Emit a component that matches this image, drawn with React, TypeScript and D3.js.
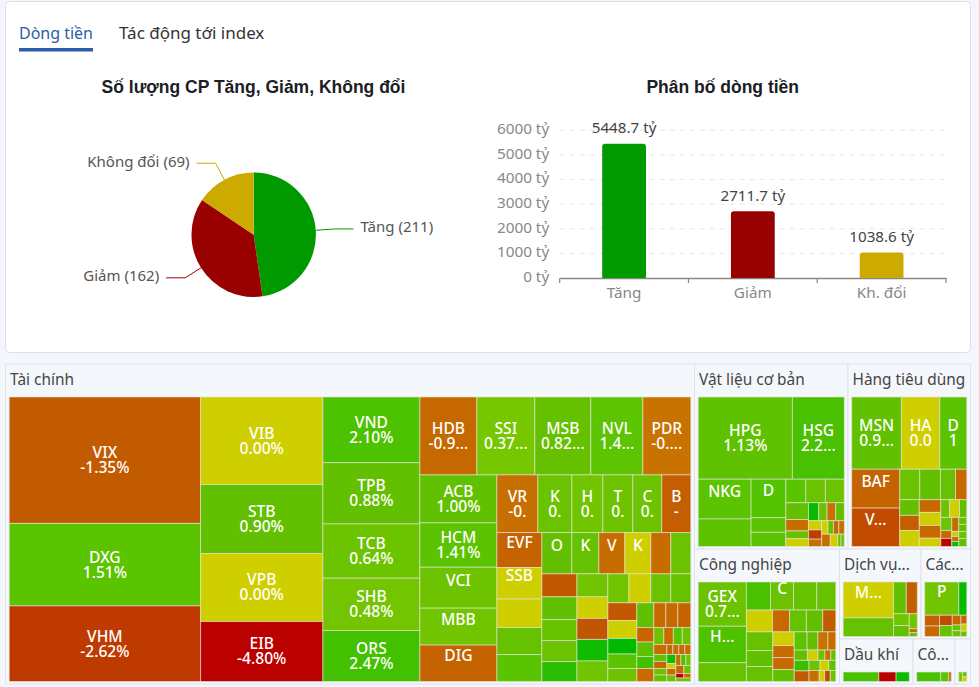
import { useEffect, useRef } from "react";
import * as d3 from "d3";

const pieLabels = ["Tăng", "Giảm", "Không đổi"];
const pieValues = [211, 162, 69];
const trendColors = ["#009900", "#990000", "#ccaa00"];

const barLabels = ["Tăng", "Giảm", "Kh. đổi"];
const barValues = [5448.7, 2711.7, 1038.6];
const barTicks = [0, 1000, 2000, 3000, 4000, 5000, 6000];

// leaf: [ticker, traded value (relative inside its sector), % change, text of second line]
type Leaf = [string, number, number, string?];
type Item = Leaf | { dir: "row" | "col"; kids: Item[] };
const row = (...kids: Item[]): Item => ({ dir: "row", kids });
const col = (...kids: Item[]): Item => ({ dir: "col", kids });

const taiChinh = row(
  col(["VIX", 24225, -1.35, "-1.35%"], ["DXG", 15799, 1.51, "1.51%"], ["VHM", 14497, -2.62, "-2.62%"]),
  col(["VIB", 10719, 0, "0.00%"], ["STB", 8453, 0.9, "0.90%"], ["VPB", 8330, 0, "0.00%"], ["EIB", 7350, -4.8, "-4.80%"]),
  col(["VND", 6373, 2.1, "2.10%"], ["TPB", 5946, 0.88, "0.88%"], ["TCB", 5267, 0.64, "0.64%"], ["SHB", 5083, 0.48, "0.48%"], ["ORS", 4947, 2.47, "2.47%"]),
  col(
    row(["HDB", 4446, -0.95, "-0.9..."], ["SSI", 4524, 0.37, "0.37..."], ["MSB", 4368, 0.82, "0.82..."], ["NVL", 4056, 1.45, "1.4..."], ["PDR", 3744, -0.6, "-0...."]),
    row(
      col(["ACB", 3696, 1, "1.00%"], ["HCM", 3427, 1.41, "1.41%"], ["VCI", 3157, 0.6], ["MBB", 2849, 0.5], ["DIG", 2811, -1.1]),
      col(
        row(["VR", 2366, -0.7, "-0."], ["K", 1962, 0.7, "0."], ["H", 1789, 0.5, "0."], ["T", 1731, 0.6, "0."], ["C", 1673, 0.6, "0."], ["B", 1673, -1.2, "-"]),
        row(
          col(["EVF", 1575, -1.1], ["SSB", 1418, 0], ["", 1283, 0], ["", 1215, 0.8], ["", 1215, 1.5]),
          col(
            row(["O", 1239, 0.9], ["K", 1115, 0.8], ["V", 1074, -0.8], ["K", 1074, 0], ["", 826, -0.8], ["", 826, 0.7]),
            row(
              col(["", 805, -1.4], ["", 805, 0.9], ["", 735, 0.8], ["", 735, 0.7], ["", 700, 3.9]),
              col(["", 713, 0.5], ["", 667, 0], ["", 651, -1.5], ["", 667, 5.5], ["", 636, 0.5]),
              col(
                row(["", 609, 0.5], ["", 638, 0], ["", 580, 0.7], ["", 580, 0.8]),
                row(
                  col(["", 513, -1.4], ["", 522, 0], ["", 450, 6.5], ["", 421, 1.5], ["", 377, 0.6]),
                  col(["", 420, 1.1], ["", 247, -1], ["", 247, 1.1], ["", 204, 2.5], ["", 221, -0.8]),
                  col(
                    row(["", 296, -0.9], ["", 296, -0.9], ["", 321, -1.1]),
                    row(["", 170, 0.6], ["", 162, -0.8], ["", 153, 1.5], ["", 145, 0.6]),
                    row(["", 130, -0.8], ["", 60, -0.9], ["", 60, -0.7], ["", 60, -0.9], ["", 60, -0.8]),
                    row(
                      col(["", 91, 1], ["", 91, -1], ["", 85, 0.7], ["", 85, 0.8]),
                      col(["", 81, 5.5], ["", 45, 0], ["", 58, -0.9], ["", 58, 0.6]),
                      col(
                        row(["", 55, -0.8], ["", 55, 2], ["", 55, 0.5]),
                        row(["", 64, -1], ["", 56, 0.7]),
                        row(["", 36, -4.8], ["", 32, -0.9]),
                        ["", 52, 0.7]
                      )
                    )
                  )
                )
              )
            )
          )
        )
      )
    )
  )
);

const vatLieu = col(
  row(["HPG", 7626, 1.13, "1.13%"], ["HSG", 4203, 2.2, "2.2..."]),
  row(
    col(["NKG", 2072, 1.5], ["", 1435, 1.2]),
    col(["D", 1316, 1.8], ["", 500, 1.4], ["", 486, 1.3]),
    col(
      row(["", 463, 1.6], ["", 454, 0.7], ["", 438, 0.6]),
      row(
        col(["", 375, 0.9], ["", 254, -0.8], ["", 174, 0.8], ["", 174, 0]),
        col(
          row(["", 182, 6], ["", 148, 0.7], ["", 153, -0.7], ["", 153, 0.9]),
          row(
            col(["", 120, 0], ["", 120, -2.6], ["", 96, -0.7]),
            col(
              row(["", 84, 0], ["", 72, 1], ["", 72, -0.9], ["", 72, -0.8]),
              row(["", 104, -0.8], ["", 90, 0], ["", 40, 0.7], ["", 40, 0.6])
            )
          )
        )
      )
    )
  )
);

const tieuDung = col(
  row(["MSN", 3578, 0.95, "0.9..."], ["HA", 2758, 0, "0.0"], ["D", 1944, 1.3, "1"]),
  row(
    col(["BAF", 1858, -1.1], ["V...", 1838, -1.9]),
    col(
      row(["", 606, 0.7], ["", 627, 0.9], ["", 455, 0.8], ["", 342, -0.9]),
      row(
        col(["", 306, 0.9], ["", 293, -1.2], ["", 312, 0]),
        col(["", 273, -0.9], ["", 280, 0], ["", 273, -0.9], ["", 178, 0]),
        col(
          row(["", 159, 0.6], ["", 172, 0], ["", 129, 0.9]),
          row(
            col(["", 143, 0.6], ["", 88, -0.9], ["", 88, -4.8]),
            col(["", 98, -0.8], ["", 35, 0], ["", 35, -0.8], ["", 35, 6]),
            col(["", 56, 0.8], ["", 56, 1], ["", 56, 0.7], ["", 64, 1.2])
          )
        )
      )
    )
  )
);

const congNghiep = row(
  col(["GEX", 2099, 0.7, "0.7..."], ["H...", 1732, 2], ["", 892, 0.8]),
  col(
    row(["", 665, 2.2], ["C", 637, 0.7], ["", 637, 0.8], ["", 526, 0.8]),
    row(["", 562, 0], ["", 367, -0.9], ["", 361, 0.8], ["", 352, 0.9], ["", 281, -1.3]),
    row(
      col(["", 486, 0.8], ["", 416, 0.9], ["", 390, 0.8]),
      col(["", 288, 0], ["", 252, -0.8], ["", 252, -0.9], ["", 252, 1]),
      col(
        row(["", 230, 1.2], ["", 195, 0.9], ["", 177, -0.6], ["", 142, -0.8]),
        row(["", 135, 0.9], ["", 105, 0], ["", 70, 0.7], ["", 60, -0.7], ["", 50, 0.9]),
        row(
          col(["", 154, 3], ["", 154, -1.3]),
          col(
            row(["", 110, 0.6], ["", 88, 0], ["", 70, 1]),
            row(["", 110, -0.7], ["", 60, 0], ["", 60, -2], ["", 60, 0.7])
          )
        )
      )
    )
  )
);

const dichVu = row(
  col(["M...", 1776, 0], ["", 925, 0.8]),
  col(
    row(["", 398, 0.9], ["", 344, -1.2]),
    row(
      col(["", 184, 0.5], ["", 168, 0.9]),
      col(["", 118, 0.5], ["", 32, -0.8], ["", 30, 1])
    )
  )
);

const cacNganh = col(
  row(["P", 1088, 0.5], ["", 256, 6]),
  row(
    col(["", 154, -1.2], ["", 150, -0.9]),
    col(["", 126, -2], ["", 134, 0.8]),
    col(["", 81, -0.9], ["", 48, 0.7], ["", 48, 0.7]),
    col(["", 50, -1], ["", 40, 0], ["", 30, 0.8])
  )
);

const dauKhi = row(["", 305, 2.2], ["", 148, -4.8], ["", 113, 6]);
const congNghe = row(["", 209, 2.2], ["", 70, 1.4], ["", 23, -0.8]);
const conLai = row(["", 30, 0.1], col(["", 15, 1], ["", 15, 0]));

const sectorNames = ["Tài chính", "Vật liệu cơ bản", "Hàng tiêu dùng", "Công nghiệp", "Dịch vụ...", "Các...", "Dầu khí", "Cô...", ""];
const sectorItems = [taiChinh, vatLieu, tieuDung, congNghiep, dichVu, cacNganh, dauKhi, congNghe, conLai];
const sectorValues = [6561.3, 845.1, 674.4, 582.5, 218.3, 132.6, 98.4, 56.2, 20.8];

const changeColor = d3
  .scaleLinear<string>()
  .domain([-4.8, -2.62, -1.35, -0.9, -0.3, -0.01, 0, 0.01, 0.37, 0.9, 1.51, 2.47, 6.5])
  .range(["#bb0000", "#bf3a00", "#c25a00", "#c66a00", "#c97a00", "#cc8000", "#cfcf00", "#7cc800", "#76c600", "#62c000", "#5bc400", "#43c000", "#00ba00"])
  .clamp(true);

const FONT = "'Noto Sans', sans-serif";

const leafValue = (it: Item) => (Array.isArray(it) ? it[1] : 0);
const sumLeaves = (it: Item): number =>
  Array.isArray(it) ? it[1] : d3.sum(it.kids, sumLeaves);
const scaleItem = (it: Item, k: number): Item =>
  Array.isArray(it)
    ? ([it[0], it[1] * k, it[2], it[3]] as Leaf)
    : { dir: it.dir, kids: it.kids.map((c) => scaleItem(c, k)) };

function App() {
  const svgRef = useRef<SVGSVGElement>(null);

  useEffect(() => {
    const svg = d3.select(svgRef.current);
    svg.selectAll("*").remove();
    svg.style("font-family", FONT);

    svg.append("rect").attr("width", 979).attr("height", 687).attr("fill", "#f3f6fb");

    // top card
    svg.append("rect").attr("x", 5.5).attr("y", 1.5).attr("width", 965).attr("height", 351)
      .attr("rx", 4).attr("fill", "#fff").attr("stroke", "#dcdfe4");

    svg.append("text").attr("x", 19).attr("y", 39).attr("font-size", 17).attr("fill", "#2b5ea8")
      .attr("textLength", 74).attr("lengthAdjust", "spacingAndGlyphs").text("Dòng tiền");
    svg.append("rect").attr("x", 19).attr("y", 48).attr("width", 74).attr("height", 3.5).attr("fill", "#2a5db0");
    svg.append("text").attr("x", 119).attr("y", 39).attr("font-size", 17).attr("fill", "#333").text("Tác động tới index");

    const titles = svg.append("g").attr("font-family", "'Liberation Sans', sans-serif")
      .attr("font-size", 17.5).attr("font-weight", 700).attr("fill", "#1b2026").attr("text-anchor", "middle");
    titles.append("text").attr("x", 253.5).attr("y", 93).text("Số lượng CP Tăng, Giảm, Không đổi");
    titles.append("text").attr("x", 722.7).attr("y", 93).text("Phân bố dòng tiền");

    // pie
    const pieG = svg.append("g").attr("transform", "translate(253.7,234.7)");
    const R = 62.2;
    const arcs = d3.pie<number>().sort(null)(pieValues);
    const arc = d3.arc<d3.PieArcDatum<number>>().innerRadius(0).outerRadius(R);
    const edge = d3.arc<d3.PieArcDatum<number>>().innerRadius(R).outerRadius(R);
    const elbow = d3.arc<d3.PieArcDatum<number>>().innerRadius(81).outerRadius(81);

    pieG.selectAll("path.slice").data(arcs).join("path").attr("class", "slice")
      .attr("d", arc).attr("fill", (_, i) => trendColors[i]);

    arcs.forEach((a, i) => {
      const [x0, y0] = edge.centroid(a);
      const [x1, y1] = elbow.centroid(a);
      const side = x1 > 0 ? 1 : -1;
      const x2 = x1 + side * 19;
      pieG.append("path").attr("fill", "none").attr("stroke", trendColors[i]).attr("stroke-width", 1)
        .attr("d", d3.line()([[x0, y0], [x1, y1], [x2, y1]]));
      pieG.append("text").attr("x", x2 + side * 7).attr("y", y1 - 1).attr("dy", "0.3em")
        .attr("text-anchor", side > 0 ? "start" : "end").attr("font-size", 15).attr("fill", "#555")
        .text(`${pieLabels[i]} (${pieValues[i]})`);
    });

    // bars
    const x = d3.scaleBand<string>().domain(barLabels).range([559.7, 946]);
    const y = d3.scaleLinear().domain([0, 6000]).range([278, 130.3]);

    const grid = svg.append("g");
    grid.selectAll("line").data(barTicks.slice(1)).join("line")
      .attr("x1", 559.7).attr("x2", 946).attr("y1", (d) => y(d)).attr("y2", (d) => y(d))
      .attr("stroke", "#e8e6ec").attr("stroke-dasharray", "5 5");

    const yAxis = svg.append("g").attr("transform", "translate(559.7,-1.5)")
      .call(d3.axisLeft(y).tickValues(barTicks).tickSize(0).tickPadding(10.5).tickFormat((d) => `${d} tỷ`));
    yAxis.select(".domain").remove();
    yAxis.selectAll("text").attr("font-family", FONT).attr("font-size", 15.3).attr("fill", "#888");

    const xAxis = svg.append("g").attr("transform", "translate(0,278)")
      .call(d3.axisBottom(x).tickSize(0).tickPadding(9.5));
    xAxis.select(".domain").attr("stroke", "#888").attr("stroke-width", 1.4);
    xAxis.selectAll("text").attr("font-family", FONT).attr("font-size", 15.3).attr("fill", "#888");
    svg.append("g").selectAll("line").data([...barLabels.map((d) => x(d) as number), 946]).join("line")
      .attr("x1", (d) => d).attr("x2", (d) => d).attr("y1", 278).attr("y2", 283)
      .attr("stroke", "#888").attr("stroke-width", 1.2);

    const barW = x.bandwidth() * 0.34;
    svg.append("g").selectAll("path").data(barValues).join("path")
      .attr("fill", (_, i) => trendColors[i])
      .attr("d", (d, i) => {
        const x0 = (x(barLabels[i]) as number) + (x.bandwidth() - barW) / 2;
        const r = 3;
        return `M${x0},278V${y(d) + r}Q${x0},${y(d)} ${x0 + r},${y(d)}H${x0 + barW - r}Q${x0 + barW},${y(d)} ${x0 + barW},${y(d) + r}V278Z`;
      });
    svg.append("g").selectAll("text").data(barValues).join("text")
      .attr("x", (_, i) => (x(barLabels[i]) as number) + x.bandwidth() / 2)
      .attr("y", (d) => y(d) - 15.5).attr("dy", "0.32em").attr("text-anchor", "middle")
      .attr("font-size", 15.2).attr("fill", "#444").text((d) => `${d} tỷ`);

    // treemap: groups lay out as rows or columns, sectors sized by their traded value
    const sectors = sectorItems.map((it, i) => {
      const s = scaleItem(it, sectorValues[i] / sumLeaves(it)) as { dir: "row" | "col"; kids: Item[] };
      return { ...s, sector: sectorNames[i] };
    });
    const rootItem = row(
      sectors[0],
      col(
        row(sectors[1], sectors[2]),
        row(sectors[3], col(row(sectors[4], sectors[5]), row(sectors[6], sectors[7], sectors[8])))
      )
    );
    const isSector = (n: d3.HierarchyNode<any>) => n.data.sector !== undefined;
    const root = d3
      .hierarchy<any>(rootItem, (d) => (Array.isArray(d) ? null : d.kids))
      .sum((d) => leafValue(d));
    d3.treemap<any>()
      .size([965, 320])
      .tile((node, x0, y0, x1, y1) =>
        (node.data.dir === "row" ? d3.treemapDice : d3.treemapSlice)(node, x0, y0, x1, y1)
      )
      .paddingTop((n) => (isSector(n) ? 33 : 0))
      .paddingLeft((n) => (isSector(n) ? 3.7 : 0))
      .paddingRight((n) => (isSector(n) ? 3.7 : 0))
      .paddingBottom((n) => (isSector(n) ? 2.5 : 0))(root);

    const map = svg.append("g").attr("transform", "translate(5.5,364)");
    const sectorNodes = root.descendants().filter(isSector) as d3.HierarchyRectangularNode<any>[];
    const box = map.selectAll("g.sector").data(sectorNodes).join("g").attr("class", "sector");
    box.append("rect")
      .attr("x", (d) => d.x0).attr("y", (d) => d.y0)
      .attr("width", (d) => d.x1 - d.x0).attr("height", (d) => d.y1 - d.y0)
      .attr("fill", "#f4f7fb").attr("stroke", "#dfe3e9");
    box.append("text").attr("x", (d) => d.x0 + 4.5).attr("y", (d) => d.y0 + 16).attr("dy", "0.32em")
      .attr("font-size", 15.4).attr("fill", "#444").text((d) => d.data.sector);

    const leaves = root.leaves() as d3.HierarchyRectangularNode<any>[];
    const cell = map.selectAll("g.cell").data(leaves).join("g").attr("class", "cell");
    cell.append("rect")
      .attr("x", (d) => d.x0).attr("y", (d) => d.y0)
      .attr("width", (d) => d.x1 - d.x0).attr("height", (d) => d.y1 - d.y0)
      .attr("fill", (d) => changeColor(d.data[2]))
      .attr("stroke", "#e4e4d8").attr("stroke-opacity", 0.6).attr("stroke-width", 1);

    const named = cell.filter((d) => d.data[0] !== "");
    named.append("clipPath").attr("id", (_, i) => `cell-${i}`).append("rect")
      .attr("x", (d) => d.x0).attr("y", (d) => d.y0)
      .attr("width", (d) => d.x1 - d.x0).attr("height", (d) => d.y1 - d.y0);
    const label = named.append("g").attr("clip-path", (_, i) => `url(#cell-${i})`)
      .attr("fill", "#fff").attr("font-size", 15.6).attr("font-weight", 500).attr("text-anchor", "middle");
    label.append("text")
      .attr("x", (d) => (d.x0 + d.x1) / 2).attr("y", (d) => (d.y0 + d.y1) / 2 - 7.5).attr("dy", "0.35em")
      .text((d) => d.data[0]);
    label.append("text")
      .attr("x", (d) => (d.x0 + d.x1) / 2).attr("y", (d) => (d.y0 + d.y1) / 2 + 7.5).attr("dy", "0.35em")
      .text((d) => d.data[3] ?? "");
  }, []);

  return (
    <svg
      ref={svgRef}
      width={979}
      height={687}
      style={{ position: "absolute", left: 0, top: 0, display: "block" }}
    />
  );
}

export default App;
